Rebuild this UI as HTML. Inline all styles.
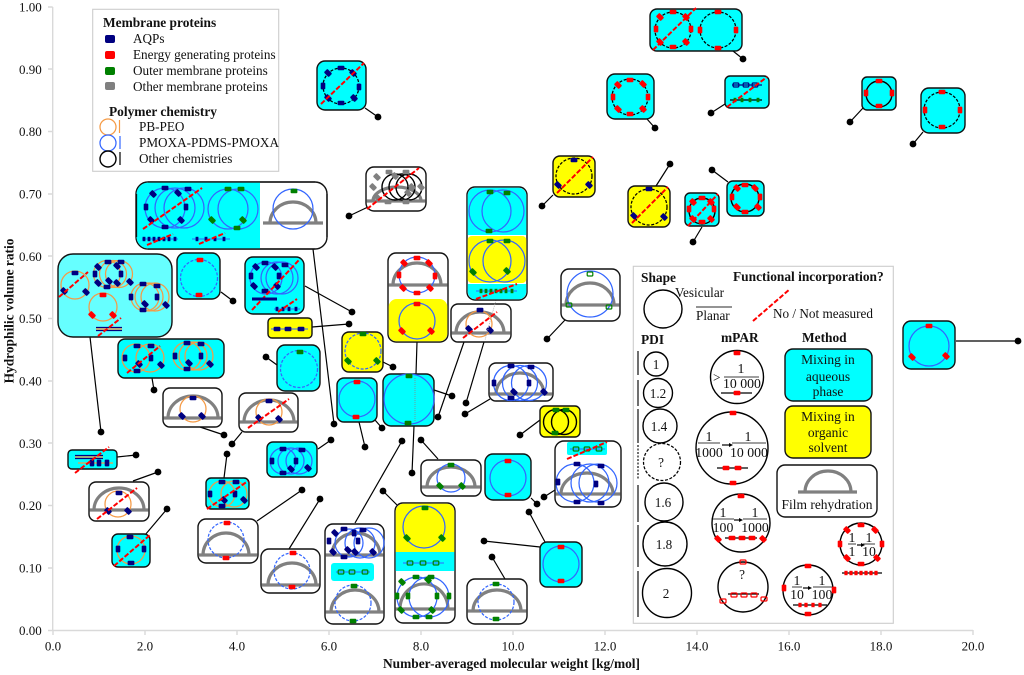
<!DOCTYPE html>
<html><head><meta charset="utf-8"><style>
html,body{margin:0;padding:0;background:#fff}
svg{display:block;filter:blur(0.35px)}
text{font-family:"Liberation Serif",serif;font-size:13.2px;fill:#111}
.B{font-weight:bold;font-size:13.4px}
.m{text-anchor:middle}
.e{text-anchor:end}
.c,.w,.y{stroke:#111;stroke-width:1.4}
.c{fill:#0ff}.w{fill:#fff}.y{fill:#ff0}
.b,.bd,.o,.k,.kd{fill:none;stroke-width:1.25}
.b{stroke:#3366ff}
.bd{stroke:#3366ff;stroke-dasharray:3 1.6}
.o{stroke:#f59a45}
.k{stroke:#000;stroke-width:1.4}
.kd{stroke:#000;stroke-width:1.25;stroke-dasharray:3 1.6}
.d{stroke:#f00;stroke-width:2;stroke-dasharray:5 2;fill:none}
.l{stroke:#000;stroke-width:1.2;fill:none}
.dm{stroke:#808080;stroke-width:3.2;fill:none}
.ax{stroke:#d9d9d9;stroke-width:1.4;fill:none}
.bx{stroke:#ccc;stroke-width:1.1;fill:#fff}
.nl{stroke:#3366ff;stroke-width:1.1;fill:none}
</style></head><body>
<svg width="1024" height="675" viewBox="0 0 1024 675" xmlns="http://www.w3.org/2000/svg">
<defs>
<rect id="n" x="-3.4" y="-2.3" width="6.8" height="4.6" rx="1" fill="#000080"/>
<rect id="nv" x="-2.3" y="-3.4" width="4.6" height="6.8" rx="1" fill="#000080"/>
<rect id="nd" x="-3.4" y="-2.5" width="6.8" height="5" rx="1" fill="#000080" transform="rotate(45)"/>
<rect id="r" x="-3.4" y="-2.3" width="6.8" height="4.6" rx="1" fill="#f00"/>
<rect id="rv" x="-2.3" y="-3.4" width="4.6" height="6.8" rx="1" fill="#f00"/>
<rect id="rd" x="-3.4" y="-2.5" width="6.8" height="5" rx="1" fill="#f00" transform="rotate(45)"/>
<rect id="g" x="-3.4" y="-2.3" width="6.8" height="4.6" rx="1" fill="#008000"/>
<rect id="gv" x="-2.3" y="-3.4" width="4.6" height="6.8" rx="1" fill="#008000"/>
<rect id="gd" x="-3.4" y="-2.5" width="6.8" height="5" rx="1" fill="#008000" transform="rotate(45)"/>
<rect id="s" x="-3.4" y="-2.3" width="6.8" height="4.6" rx="1" fill="#808080"/>
<rect id="sd" x="-3.4" y="-2.5" width="6.8" height="5" rx="1" fill="#808080" transform="rotate(45)"/>
<rect id="rh" x="-3" y="-2" width="6" height="4" rx="1" fill="none" stroke="#f00" stroke-width="1.2"/>
<rect id="gh" x="-2.8" y="-2" width="5.6" height="4" rx="1" fill="none" stroke="#008000" stroke-width="1.2"/>
<rect id="nh" x="-2.8" y="-2" width="5.6" height="4" rx="1" fill="none" stroke="#000080" stroke-width="1.2"/>
<rect id="sq" x="-1.4" y="-2.2" width="2.8" height="4.4" fill="#000080"/>
<rect id="sg" x="-1.4" y="-2.2" width="2.8" height="4.4" fill="#008000"/>
<rect id="sr" x="-1.6" y="-2.2" width="3.2" height="4.4" fill="#f00"/>
<circle id="o" r="3.4" fill="#000"/>
</defs>

<!-- axes -->
<path class="ax" d="M52.7 7V630.5H973M48 7H52.7M48 69H52.7M48 131.5H52.7M48 194H52.7M48 256H52.7M48 318.5H52.7M48 381H52.7M48 443H52.7M48 505.5H52.7M48 568H52.7M48 630.5H52.7M53 630V635M145 630V635M237 630V635M329 630V635M421 630V635M513 630V635M605 630V635M697 630V635M789 630V635M881 630V635M973 630V635"/>
<g>
<text class="e" x="41.7" y="11.5" style="font-size:13px">1.00</text>
<text class="e" x="41.7" y="74" style="font-size:13px">0.90</text>
<text class="e" x="41.7" y="136" style="font-size:13px">0.80</text>
<text class="e" x="41.7" y="198.500" style="font-size:13px">0.70</text>
<text class="e" x="41.7" y="261" style="font-size:13px">0.60</text>
<text class="e" x="41.7" y="323" style="font-size:13px">0.50</text>
<text class="e" x="41.7" y="385.500" style="font-size:13px">0.40</text>
<text class="e" x="41.7" y="448" style="font-size:13px">0.30</text>
<text class="e" x="41.7" y="510" style="font-size:13px">0.20</text>
<text class="e" x="41.7" y="572.500" style="font-size:13px">0.10</text>
<text class="e" x="41.7" y="635" style="font-size:13px">0.00</text>
<text class="m" x="53" y="650.700" style="font-size:13px">0.0</text>
<text class="m" x="145" y="650.700" style="font-size:13px">2.0</text>
<text class="m" x="237" y="650.700" style="font-size:13px">4.0</text>
<text class="m" x="329" y="650.700" style="font-size:13px">6.0</text>
<text class="m" x="421" y="650.700" style="font-size:13px">8.0</text>
<text class="m" x="513" y="650.700" style="font-size:13px">10.0</text>
<text class="m" x="605" y="650.700" style="font-size:13px">12.0</text>
<text class="m" x="697" y="650.700" style="font-size:13px">14.0</text>
<text class="m" x="789" y="650.700" style="font-size:13px">16.0</text>
<text class="m" x="881" y="650.700" style="font-size:13px">18.0</text>
<text class="m" x="973" y="650.700" style="font-size:13px">20.0</text>
</g>
<text class="B" x="383" y="668">Number-averaged molecular weight [kg/mol]</text>
<text class="B m" transform="translate(13.500 311) rotate(-90)">Hydrophilic volume ratio</text>

<!-- leaders -->
<path class="l" d="M313 249L334 424M90 337L101 432M221 292L233 301M305 286L352 312M312 327L349 324M383 362L393 367M277 365L266 357M152 378L154 390M200 427L224 435M242 432L232 444M318 449L331 440M117 457L136 455M133 481L158 472M145 535L167 509M224 478L227 454M257 521L302 490M289 549L320 499M355 523L402 441M397 505L383 491M438 459L421 440M531 498L537 504M540 547L484 541M545 542L529 512M505 579L492 557M555 490L544 497M540 420L520 435M434 390L452 396M414 426L412 473M359 422L365 447M375 420L382 428M417 342L416 374M464 342L438 417M484 342L466 403M490 399L465 414M368 207L349 216M565 320L547 339M553 195L542 206M733 51L743 59M647 119L655 128M725 104L711 113M863 108L850 122M923 132L913 144M656 186L670 164M702 227L693 242M728 182L712 170M365 108L378 117M956 341L1018 341"/>
<use href="#o" x="334" y="424"/><use href="#o" x="101" y="432"/><use href="#o" x="233" y="301"/><use href="#o" x="352" y="312"/><use href="#o" x="349" y="324"/><use href="#o" x="393" y="367"/><use href="#o" x="266" y="357"/><use href="#o" x="154" y="390"/><use href="#o" x="224" y="435"/><use href="#o" x="232" y="444"/><use href="#o" x="331" y="440"/><use href="#o" x="136" y="455"/><use href="#o" x="158" y="472"/><use href="#o" x="167" y="509"/><use href="#o" x="227" y="454"/><use href="#o" x="302" y="490"/><use href="#o" x="320" y="499"/><use href="#o" x="402" y="441"/><use href="#o" x="383" y="491"/><use href="#o" x="421" y="440"/><use href="#o" x="537" y="504"/><use href="#o" x="484" y="541"/><use href="#o" x="529" y="512"/><use href="#o" x="492" y="557"/><use href="#o" x="544" y="497"/><use href="#o" x="520" y="435"/><use href="#o" x="452" y="396"/><use href="#o" x="412" y="473"/><use href="#o" x="365" y="447"/><use href="#o" x="382" y="428"/><use href="#o" x="438" y="417"/><use href="#o" x="466" y="403"/><use href="#o" x="465" y="414"/><use href="#o" x="349" y="216"/><use href="#o" x="547" y="339"/><use href="#o" x="542" y="206"/><use href="#o" x="743" y="59"/><use href="#o" x="655" y="128"/><use href="#o" x="711" y="113"/><use href="#o" x="850" y="122"/><use href="#o" x="913" y="144"/><use href="#o" x="670" y="164"/><use href="#o" x="693" y="242"/><use href="#o" x="712" y="170"/><use href="#o" x="378" y="117"/><use href="#o" x="1018" y="341"/>

<!-- legend 1 -->
<rect class="bx" x="92.700" y="9.300" width="186" height="162"/>
<text class="B" x="103" y="27">Membrane proteins</text>
<text x="133" y="43">AQPs</text>
<text x="133" y="59">Energy generating proteins</text>
<text x="133" y="75">Outer membrane proteins</text>
<text x="133" y="91">Other membrane proteins</text>
<text class="B" x="109" y="116">Polymer chemistry</text>
<text x="139" y="131">PB-PEO</text>
<text x="139" y="147">PMOXA-PDMS-PMOXA</text>
<text x="139" y="163">Other chemistries</text>
<rect x="105" y="35" width="10" height="8" rx="2" fill="#000080"/>
<rect x="105" y="51" width="10" height="8" rx="2" fill="#f00"/>
<rect x="105" y="67" width="10" height="8" rx="2" fill="#008000"/>
<rect x="105" y="82" width="10" height="8" rx="2" fill="#808080"/>
<circle class="o" cx="108" cy="127" r="8"/><path d="M119.500 120V133" stroke="#f59a45" stroke-width="1.2"/>
<circle class="b" cx="108" cy="143" r="8"/><path d="M120 136V149" stroke="#3366ff" stroke-width="1.2"/>
<circle class="k" cx="108" cy="159" r="8"/><path d="M120 152V165" stroke="#000" stroke-width="1.2"/>

<!-- Box A -->
<rect class="w" x="136" y="182" width="191" height="67" rx="12"/>
<path fill="#0ff" d="M260 182.600H148A11.400 11.400 0 0 0 136.600 194V237A11.400 11.400 0 0 0 148 248.400H260Z"/>
<path d="M148 182H315M136.500 194V237M148 249H315M327 194V237" stroke="#111" fill="none" stroke-width="1.300"/>
<circle class="b" cx="165" cy="208" r="20"/><circle class="b" cx="175" cy="208" r="20"/><circle class="b" cx="184" cy="208" r="20"/>
<use href="#n" x="165" y="188"/><use href="#n" x="188" y="189"/><use href="#nd" x="153" y="194"/><use href="#nd" x="178" y="193"/><use href="#nv" x="146" y="207"/><use href="#nv" x="186" y="207"/><use href="#nd" x="151" y="220"/><use href="#nd" x="181" y="220"/><use href="#n" x="165" y="227"/>
<path class="d" d="M143 229L202 188"/>
<circle class="b" cx="228" cy="209" r="20"/><circle class="b" cx="238" cy="209" r="20"/>
<use href="#g" x="228" y="189"/><use href="#g" x="241" y="189"/><use href="#gd" x="212" y="220"/><use href="#gd" x="243" y="220"/><use href="#g" x="237" y="228"/>
<path class="dm" d="M270 223A23 21 0 0 1 316 223M263 223H323"/>
<circle class="b" cx="293" cy="209" r="20"/><use href="#g" x="294" y="191"/>
<path class="nl" d="M142 239H178M192 239H230"/>
<use href="#sq" x="144" y="239"/><use href="#sq" x="149" y="239"/><use href="#sq" x="154" y="239"/><use href="#sq" x="159" y="239"/><use href="#sq" x="164" y="239"/><use href="#sq" x="169" y="239"/><use href="#sq" x="175" y="239"/>
<use href="#sq" x="197" y="239"/><use href="#sq" x="206" y="239"/><use href="#sq" x="215" y="239"/><use href="#sq" x="224" y="239"/>
<path class="d" d="M147 245L173 234M199 244L225 233"/>

<!-- Box B -->
<rect x="58" y="254" width="114" height="83" rx="15" fill="#66ffff" stroke="#111" stroke-width="1.400"/>
<circle class="o" cx="75" cy="285" r="14"/><use href="#n" x="75" y="273"/><use href="#nd" x="64" y="291"/><use href="#nd" x="86" y="292"/>
<path class="d" d="M59 297L88 272"/>
<circle class="o" cx="107" cy="274" r="13.500"/><circle class="o" cx="113" cy="274" r="13.500"/><circle class="o" cx="119" cy="274" r="13.500"/>
<use href="#n" x="108" y="262"/><use href="#n" x="121" y="262"/><use href="#nd" x="98" y="267"/><use href="#nd" x="117" y="266"/><use href="#nv" x="95" y="274"/><use href="#nv" x="121" y="274"/><use href="#nd" x="98" y="283"/><use href="#nd" x="109" y="281"/><use href="#nd" x="117" y="283"/><use href="#nd" x="130" y="282"/><use href="#n" x="107" y="287"/>
<circle class="o" cx="145" cy="297" r="14"/><circle class="o" cx="149" cy="297" r="14"/><circle class="o" cx="155" cy="297" r="14"/>
<use href="#n" x="143" y="284"/><use href="#n" x="157" y="286"/><use href="#nv" x="131" y="297"/><use href="#nv" x="157" y="297"/><use href="#nd" x="145" y="304"/><use href="#nd" x="166" y="305"/><use href="#n" x="143" y="310"/>
<circle class="o" cx="103" cy="307" r="14"/><use href="#r" x="103" y="295"/><use href="#rd" x="92" y="315"/><use href="#rd" x="113" y="315"/>
<path d="M96 327.500H122M96 330.500H122" stroke="#000080" stroke-width="1.300"/><path d="M96 329H122" stroke="#f59a45" stroke-width="1.300"/>
<path class="d" d="M98 336L121 318"/>

<!-- Box C -->
<rect class="c" x="177" y="253" width="43" height="46" rx="8"/>
<circle class="bd" cx="199" cy="278" r="18.500"/><use href="#r" x="200" y="260"/><use href="#r" x="199" y="295"/>

<!-- Box D -->
<rect class="c" x="245" y="257" width="59" height="57" rx="8"/>
<circle class="b" cx="266" cy="278" r="16"/><circle class="b" cx="277" cy="278" r="16"/><circle class="b" cx="282" cy="278" r="16"/>
<use href="#n" x="265" y="263"/><use href="#n" x="285" y="265"/><use href="#nd" x="256" y="267"/><use href="#nd" x="275" y="267"/><use href="#nv" x="251" y="276"/><use href="#nv" x="279" y="276"/><use href="#nd" x="254" y="286"/><use href="#nd" x="277" y="286"/><use href="#n" x="265" y="291"/>
<path class="d" d="M252 310L299 260"/>
<path d="M252 299H277" stroke="#000080" stroke-width="3"/>
<path class="nl" d="M274 309H300"/><use href="#sq" x="277" y="309"/><use href="#sq" x="283" y="309"/><use href="#sq" x="289" y="309"/><use href="#sq" x="296" y="309"/>
<path class="d" d="M278 312L297 299"/>

<!-- Box E -->
<rect class="y" x="268" y="318" width="44" height="20" rx="4"/>
<path class="nl" d="M271 329H308"/><use href="#n" x="277" y="329"/><use href="#n" x="288" y="329"/><use href="#n" x="301" y="329"/>

<!-- Box F -->
<rect class="y" x="342" y="332" width="41" height="40" rx="7"/>
<circle class="bd" cx="363" cy="351" r="18"/><use href="#g" x="363" y="334"/><use href="#gd" x="348" y="361"/><use href="#gd" x="377" y="361"/>

<!-- Box G -->
<rect class="c" x="277" y="345" width="43" height="46" rx="8"/>
<circle class="bd" cx="299" cy="369" r="18.500"/><use href="#g" x="300" y="352"/>

<!-- Box H -->
<rect class="c" x="118" y="339" width="106" height="39" rx="7"/>
<circle class="o" cx="136" cy="358" r="14"/><circle class="o" cx="150" cy="358" r="14"/>
<use href="#n" x="137" y="346"/><use href="#n" x="151" y="346"/><use href="#nv" x="125" y="358"/><use href="#nv" x="151" y="358"/><use href="#nd" x="139" y="364"/><use href="#nd" x="161" y="365"/><use href="#n" x="137" y="371"/>
<path class="d" d="M127 373L160 346"/>
<circle class="o" cx="187" cy="356" r="14"/><circle class="o" cx="193" cy="356" r="14"/><circle class="o" cx="199" cy="356" r="14"/>
<use href="#n" x="187" y="343"/><use href="#n" x="201" y="344"/><use href="#nv" x="175" y="356"/><use href="#nv" x="201" y="356"/><use href="#nd" x="189" y="363"/><use href="#nd" x="210" y="364"/><use href="#n" x="187" y="369"/>

<!-- Box I -->
<rect class="w" x="163" y="388" width="59" height="39" rx="7"/>
<path class="dm" d="M168 418A25 22 0 0 1 218 418M163.500 418H221.500"/>
<circle class="o" cx="193" cy="409" r="13"/><use href="#n" x="193" y="398"/><use href="#nd" x="182" y="416"/><use href="#nd" x="202" y="416"/>

<!-- Box J -->
<rect class="w" x="239" y="393" width="59" height="39" rx="7"/>
<path class="dm" d="M244 422A25 22 0 0 1 294 422M239.500 422H297.500"/>
<circle class="o" cx="269" cy="412" r="13"/><use href="#n" x="269" y="401"/><use href="#nd" x="259" y="418"/><use href="#nd" x="279" y="419"/>
<path class="d" d="M248 428L289 399"/>

<!-- Box K -->
<rect class="c" x="267" y="442" width="50" height="35" rx="6"/>
<circle class="b" cx="283" cy="461" r="13"/><circle class="b" cx="291" cy="461" r="13"/><circle class="b" cx="299" cy="461" r="13"/>
<use href="#n" x="283" y="449"/><use href="#n" x="302" y="450"/><use href="#nv" x="272" y="461"/><use href="#nv" x="296" y="461"/><use href="#nd" x="291" y="469"/><use href="#nd" x="308" y="468"/><use href="#n" x="283" y="473"/>

<!-- Box L -->
<rect class="c" x="68" y="450" width="49" height="19" rx="4"/>
<path d="M75 455.500H103M75 458.500H103" stroke="#000080" stroke-width="1.300"/><path d="M75 457H103M78 463H113" stroke="#f59a45" stroke-width="1.300"/>
<use href="#nv" x="92" y="463"/><use href="#nv" x="99" y="463"/><use href="#nv" x="107" y="463"/>
<path class="d" d="M75 473L109 447"/>

<!-- Box M -->
<rect class="w" x="89" y="482" width="60" height="39" rx="7"/>
<path class="dm" d="M94 510A25 22 0 0 1 144 510M89.500 510H148.500"/>
<circle class="o" cx="118" cy="504" r="13"/><use href="#n" x="119" y="493"/><use href="#nd" x="108" y="511"/><use href="#nd" x="128" y="511"/>
<path class="d" d="M97 519L137 488"/>

<!-- Box N -->
<rect class="c" x="112" y="534" width="38" height="33" rx="6"/>
<circle class="o" cx="131" cy="550" r="14"/><use href="#n" x="130" y="537"/><use href="#nv" x="118" y="549"/><use href="#nv" x="144" y="549"/><use href="#n" x="131" y="563"/>
<path class="d" d="M114 566L150 535"/>

<!-- Box O -->
<rect class="c" x="206" y="478" width="43" height="31" rx="5"/>
<circle class="o" cx="222" cy="494" r="13"/><circle class="o" cx="234" cy="494" r="13"/>
<use href="#n" x="222" y="482"/><use href="#n" x="236" y="482"/><use href="#nv" x="210" y="494"/><use href="#nv" x="235" y="494"/><use href="#nd" x="224" y="500"/><use href="#nd" x="244" y="500"/><use href="#n" x="222" y="506"/>
<path class="d" d="M207 509L248 481"/>

<!-- Box P -->
<rect class="w" x="198" y="519" width="60" height="44" rx="8"/>
<path class="dm" d="M203 555A23 22 0 0 1 249 555M198.500 555H257.500"/>
<circle class="bd" cx="226" cy="540" r="18"/><use href="#r" x="227" y="523"/><use href="#r" x="226" y="558"/>

<!-- Box Q -->
<rect class="w" x="261" y="549" width="59" height="44" rx="8"/>
<path class="dm" d="M268 585A24 22 0 0 1 316 585M261.500 585H319.500"/>
<circle class="bd" cx="292" cy="571" r="18"/><use href="#r" x="293" y="553"/><use href="#r" x="292" y="587"/>

<!-- Box R -->
<rect class="w" x="325" y="524" width="59" height="100" rx="8"/>
<path class="dm" d="M332 555A24 22 0 0 1 380 555M325.500 555H383.500"/>
<circle class="b" cx="349" cy="543" r="14"/><circle class="b" cx="360" cy="543" r="15"/><circle class="b" cx="369" cy="543" r="15"/>
<use href="#n" x="344" y="529"/><use href="#n" x="363" y="530"/><use href="#nd" x="335" y="533"/><use href="#nv" x="354" y="533"/><use href="#nv" x="329" y="541"/><use href="#nv" x="358" y="541"/><use href="#nd" x="333" y="552"/><use href="#nd" x="348" y="550"/><use href="#nd" x="355" y="552"/><use href="#nd" x="373" y="552"/><use href="#n" x="344" y="557"/>
<rect x="331" y="563" width="43" height="18" rx="3" fill="#0ff"/>
<path class="nl" d="M336 572H370"/><use href="#gh" x="341" y="572"/><use href="#gh" x="352" y="572"/><use href="#gh" x="365" y="572"/>
<path class="dm" d="M331 612A24 22 0 0 1 379 612M325.500 612H383.500"/>
<circle class="bd" cx="353" cy="603" r="18"/><use href="#g" x="354" y="586"/><use href="#g" x="353" y="621"/>

<!-- Box S -->
<rect class="w" x="395" y="503" width="60" height="120" rx="8"/>
<path fill="#ff0" d="M395.700 552V511.600A8 8 0 0 1 403.600 503.700H446.400A8 8 0 0 1 454.300 511.600V552Z"/>
<rect x="395.700" y="552" width="58.600" height="19" fill="#0ff"/>
<circle class="b" cx="424" cy="527" r="21"/><use href="#g" x="425" y="508"/><use href="#gd" x="407" y="538"/><use href="#gd" x="442" y="538"/>
<path class="nl" d="M403 563H444"/><use href="#gh" x="410" y="563"/><use href="#gh" x="423" y="563"/><use href="#gh" x="436" y="563"/>
<path class="dm" d="M400 609A23 24 0 0 1 448 609M395.500 609H454.500"/>
<circle class="b" cx="417" cy="597" r="20"/><circle class="b" cx="429" cy="597" r="20"/>
<use href="#g" x="416" y="577"/><use href="#g" x="431" y="577"/><use href="#gd" x="402" y="582"/><use href="#gd" x="428" y="580"/><use href="#gv" x="397" y="596"/><use href="#gv" x="408" y="596"/><use href="#gv" x="437" y="596"/><use href="#gv" x="449" y="596"/><use href="#gd" x="401" y="610"/><use href="#gd" x="432" y="610"/><use href="#g" x="416" y="617"/><use href="#g" x="429" y="617"/>

<!-- Box T -->
<rect class="w" x="421" y="460" width="60" height="36" rx="7"/>
<path class="dm" d="M427 487A24 20 0 0 1 475 487M421.500 487H480.500"/>
<circle class="b" cx="451" cy="478" r="14"/><use href="#g" x="451" y="465"/><use href="#gd" x="440" y="486"/><use href="#gd" x="462" y="486"/>

<!-- Box U -->
<rect class="c" x="485" y="454" width="46" height="46" rx="8"/>
<circle class="b" cx="508" cy="478" r="18"/><use href="#r" x="508" y="461"/><use href="#r" x="508" y="495"/>

<!-- Box V -->
<rect class="c" x="540" y="542" width="42" height="45" rx="7"/>
<circle class="b" cx="561" cy="564" r="18"/><use href="#r" x="561" y="547"/><use href="#r" x="561" y="581"/>

<!-- Box W -->
<rect class="w" x="467" y="579" width="60" height="45" rx="8"/>
<path class="dm" d="M473 611A24 21 0 0 1 521 611M467.500 611H526.500"/>
<circle class="bd" cx="496" cy="602" r="18"/><use href="#g" x="496" y="584"/><use href="#g" x="496" y="619"/>

<!-- Box X -->
<rect class="w" x="555" y="441" width="66" height="66" rx="9"/>
<rect x="567" y="442" width="40" height="13" rx="2" fill="#0ff"/>
<path class="nl" d="M570 449H605"/><use href="#gh" x="576" y="449"/><use href="#gh" x="587" y="449"/><use href="#gh" x="599" y="449"/>
<path class="d" d="M567 459L607 442"/>
<path class="dm" d="M561 494A26 21 0 0 1 613 494M555.500 494H620.500"/>
<circle class="b" cx="575" cy="483" r="19"/><circle class="b" cx="590" cy="483" r="19"/><circle class="b" cx="598" cy="483" r="19"/>
<use href="#n" x="577" y="464"/><use href="#n" x="601" y="466"/><use href="#nv" x="558" y="482"/><use href="#nv" x="596" y="484"/><use href="#n" x="577" y="502"/><use href="#n" x="601" y="503"/>

<!-- Box Y -->
<rect class="y" x="540" y="406" width="40" height="31" rx="5"/>
<circle class="k" cx="556" cy="422" r="12.500"/><circle class="k" cx="564" cy="422" r="12.500"/>
<use href="#g" x="556" y="410"/><use href="#g" x="566" y="410"/><use href="#g" x="555" y="433"/>

<!-- Box Z -->
<rect class="c" x="383" y="374" width="51" height="52" rx="8"/>
<circle class="b" cx="409" cy="399" r="25"/><use href="#g" x="409" y="376"/><use href="#g" x="408" y="423"/>
<path d="M415 378V422" stroke="#888" stroke-width="0.800" stroke-dasharray="1 1"/>

<!-- Box AA -->
<rect class="c" x="337" y="378" width="40" height="44" rx="7"/>
<circle class="b" cx="357" cy="399" r="18"/><use href="#r" x="357" y="382"/><use href="#r" x="356" y="417"/>

<!-- Box AB -->
<rect class="w" x="388" y="253" width="60" height="89" rx="8"/>
<path fill="#ff0" d="M388.700 307A8 8 0 0 1 396.600 299H439.400A8 8 0 0 1 447.300 307V333.400A8 8 0 0 1 439.400 341.300H396.600A8 8 0 0 1 388.700 333.400Z"/>
<path class="dm" d="M393 285A24 22 0 0 1 441 285M388.500 285H447.500"/>
<circle class="b" cx="417" cy="275" r="18"/>
<use href="#r" x="417" y="258"/><use href="#rd" x="404" y="263"/><use href="#rd" x="429" y="263"/><use href="#rv" x="399" y="275"/><use href="#rv" x="435" y="276"/><use href="#rd" x="403" y="288"/><use href="#rd" x="430" y="288"/><use href="#r" x="417" y="293"/>
<circle class="b" cx="417" cy="321" r="18"/><use href="#r" x="417" y="304"/><use href="#rd" x="402" y="331"/><use href="#rd" x="431" y="331"/>

<!-- Box AC -->
<rect class="w" x="451" y="304" width="60" height="38" rx="7"/>
<path class="dm" d="M456 333A24 21 0 0 1 504 333M451.500 333H510.500"/>
<circle class="o" cx="479" cy="324" r="13"/><use href="#n" x="480" y="310"/><use href="#nd" x="469" y="329"/><use href="#nd" x="490" y="330"/>
<path d="M496 300L485 340" stroke="#aaa" stroke-width="0.800" stroke-dasharray="1 1"/>
<path class="d" d="M463 338L497 312"/>

<!-- Box AD -->
<rect class="w" x="467" y="187" width="60" height="113" rx="8"/>
<path fill="#0ff" d="M467.700 235V195.600A8 8 0 0 1 475.600 187.700H518.400A8 8 0 0 1 526.300 195.600V235Z"/>
<rect x="467.700" y="236" width="58.600" height="47" rx="4" fill="#ff0"/>
<path fill="#0ff" d="M467.700 284H526.300V291.400A8 8 0 0 1 518.400 299.300H475.600A8 8 0 0 1 467.700 291.400Z"/>
<circle class="b" cx="490" cy="211" r="21"/><circle class="b" cx="503" cy="211" r="21"/><use href="#g" x="490" y="192"/><use href="#g" x="507" y="193"/><use href="#g" x="489" y="231"/>
<circle class="b" cx="490" cy="261" r="21"/><circle class="b" cx="504" cy="261" r="21"/><use href="#g" x="490" y="241"/><use href="#g" x="507" y="241"/><use href="#gd" x="473" y="272"/><use href="#gd" x="507" y="271"/>
<path class="nl" d="M476 291H517"/>
<use href="#sg" x="481" y="291"/><use href="#sg" x="486" y="291"/><use href="#sg" x="491" y="291"/><use href="#sg" x="496" y="291"/><use href="#sg" x="501" y="291"/><use href="#sg" x="506" y="291"/><use href="#sg" x="512" y="291"/>
<path class="d" d="M476 299L517 284"/>

<!-- Box AE -->
<rect class="w" x="366" y="167" width="60" height="44" rx="8"/>
<path class="dm" d="M373 201A24 14 0 0 1 421 201M366.500 201H425.500"/>
<circle class="k" cx="395" cy="187" r="13"/><circle class="k" cx="402" cy="187" r="13"/><circle class="k" cx="409" cy="187" r="13"/>
<use href="#s" x="389" y="172"/><use href="#s" x="406" y="172"/><use href="#sd" x="377" y="177"/><use href="#sd" x="395" y="176"/><use href="#sd" x="373" y="187"/><use href="#sd" x="412" y="187"/><use href="#sd" x="377" y="197"/><use href="#sd" x="408" y="193"/><use href="#s" x="388" y="202"/><use href="#s" x="406" y="202"/><use href="#sd" x="421" y="187"/>
<path class="d" d="M367 209L419 168"/>

<!-- Box AF -->
<rect class="w" x="561" y="269" width="59" height="52" rx="8"/>
<path class="dm" d="M566 305A24 22 0 0 1 614 305M561.500 305H619.500"/>
<circle class="b" cx="590" cy="294" r="23"/><use href="#gh" x="590" y="274"/><use href="#gh" x="569" y="305"/><use href="#gh" x="609" y="307"/>

<!-- Box AG -->
<rect class="w" x="489" y="363" width="64" height="38" rx="7"/>
<path class="dm" d="M496 394A24 21 0 0 1 544 394M489.500 394H552.500"/>
<circle class="b" cx="511" cy="383" r="17.500"/><circle class="b" cx="520" cy="383" r="17.500"/><circle class="b" cx="529" cy="383" r="17.500"/>
<use href="#n" x="511" y="366"/><use href="#n" x="531" y="367"/><use href="#nv" x="494" y="383"/><use href="#nv" x="529" y="383"/><use href="#nd" x="514" y="392"/><use href="#nd" x="544" y="392"/><use href="#n" x="511" y="398"/>

<!-- Box AH -->
<rect class="y" x="553" y="156" width="42" height="41" rx="7"/>
<circle class="kd" cx="574" cy="176" r="18"/><use href="#n" x="574" y="160"/><use href="#nd" x="558" y="185"/><use href="#nd" x="589" y="185"/>
<path class="d" d="M557 193L593 157"/>

<!-- Box AI -->
<rect class="c" x="650" y="9" width="92" height="42" rx="7"/>
<circle class="kd" cx="673" cy="30" r="18"/><circle class="kd" cx="718" cy="30" r="18"/>
<use href="#r" x="673" y="12"/><use href="#rd" x="660" y="17"/><use href="#rd" x="686" y="17"/><use href="#rv" x="656" y="29"/><use href="#rv" x="691" y="29"/><use href="#rd" x="660" y="42"/><use href="#rd" x="686" y="42"/><use href="#r" x="673" y="47"/>
<use href="#r" x="718" y="12"/><use href="#rv" x="700" y="30"/><use href="#rv" x="736" y="30"/><use href="#r" x="718" y="48"/>
<path class="d" d="M653 50L696 8"/>

<!-- Box AJ -->
<rect class="c" x="607" y="74" width="47" height="45" rx="8"/>
<circle class="kd" cx="630" cy="97" r="18"/>
<use href="#r" x="630" y="80"/><use href="#rd" x="618" y="85"/><use href="#rd" x="643" y="84"/><use href="#rv" x="613" y="97"/><use href="#rv" x="648" y="97"/><use href="#rd" x="618" y="109"/><use href="#rd" x="643" y="109"/><use href="#r" x="630" y="114"/>

<!-- Box AK -->
<rect class="c" x="725" y="76" width="44" height="32" rx="5"/>
<path d="M732 85H762" stroke="#000080" stroke-width="1.200"/><use href="#nh" x="736" y="85"/><use href="#nh" x="746" y="85"/><use href="#nh" x="755" y="85"/>
<path d="M730 100H762" stroke="#000" stroke-width="1.200"/><use href="#sg" x="735" y="100"/><use href="#sg" x="742" y="100"/><use href="#sg" x="750" y="100"/><use href="#sg" x="758" y="100"/>
<path class="d" d="M727 107L767 77"/>

<!-- Box AL -->
<rect class="c" x="862" y="77" width="34" height="33" rx="5"/>
<circle class="k" cx="879" cy="94" r="13"/><use href="#r" x="879" y="81"/><use href="#rv" x="866" y="93"/><use href="#rv" x="892" y="93"/><use href="#r" x="879" y="106"/>

<!-- Box AM -->
<rect class="c" x="921" y="88" width="44" height="45" rx="8"/>
<circle class="kd" cx="942" cy="110" r="18"/><use href="#r" x="942" y="92"/><use href="#rv" x="925" y="110"/><use href="#rv" x="960" y="110"/><use href="#r" x="942" y="127"/>

<!-- Box AN -->
<rect class="y" x="628" y="186" width="42" height="41" rx="7"/>
<circle class="kd" cx="649" cy="207" r="18"/><use href="#n" x="649" y="189"/><use href="#nd" x="634" y="216"/><use href="#nd" x="664" y="217"/>
<path class="d" d="M632 223L668 187"/>

<!-- Box AO -->
<rect class="c" x="685" y="193" width="34" height="33" rx="5"/>
<circle class="k" cx="702" cy="211" r="13"/>
<use href="#r" x="702" y="198"/><use href="#rd" x="693" y="202"/><use href="#rd" x="711" y="202"/><use href="#rv" x="689" y="209"/><use href="#rv" x="714" y="209"/><use href="#rd" x="693" y="219"/><use href="#rd" x="711" y="219"/><use href="#r" x="702" y="222"/>
<path class="d" d="M688 226L718 194"/>

<!-- Box AP -->
<rect class="c" x="727" y="181" width="37" height="35" rx="6"/>
<circle class="k" cx="745" cy="198" r="14"/>
<use href="#r" x="745" y="185"/><use href="#rd" x="737" y="188"/><use href="#rd" x="755" y="188"/><use href="#rv" x="732" y="197"/><use href="#rv" x="760" y="197"/><use href="#rd" x="737" y="207"/><use href="#rd" x="758" y="207"/><use href="#r" x="745" y="212"/>

<!-- Box top-left -->
<rect class="c" x="317" y="61" width="49" height="49" rx="8"/>
<circle class="kd" cx="341" cy="86" r="18"/>
<use href="#n" x="341" y="68"/><use href="#nd" x="353" y="73"/><use href="#nd" x="328" y="73"/><use href="#nv" x="323" y="86"/><use href="#nv" x="359" y="87"/><use href="#nd" x="328" y="98"/><use href="#nd" x="354" y="98"/><use href="#n" x="341" y="103"/>
<path class="d" d="M321 104L364 63"/>

<!-- Right box -->
<rect class="c" x="903" y="321" width="52" height="48" rx="8"/>
<circle class="b" cx="929" cy="346" r="20"/><use href="#r" x="929" y="326"/><use href="#rd" x="912" y="357"/><use href="#rd" x="946" y="356"/>

<!-- Legend panel -->
<rect class="bx" x="633.300" y="266.300" width="260" height="357"/>
<text class="B" x="641" y="282">Shape</text>
<text class="B" x="733" y="281">Functional incorporation?</text>
<circle class="k" cx="663" cy="309" r="19"/>
<text x="675" y="297">Vesicular</text>
<path d="M696 307H732" stroke="#555" stroke-width="1.300"/>
<text x="696" y="320">Planar</text>
<path class="d" d="M753 321L790 289"/>
<text x="773" y="318">No / Not measured</text>
<text class="B" x="641" y="344">PDI</text>
<text class="B" x="721" y="342">mPAR</text>
<text class="B" x="802" y="342">Method</text>
<path d="M638 351V375M638 380V406M638 409V443M638 485V522M638 525V567M638 571V617" stroke="#222" stroke-width="1.300" fill="none"/>
<path d="M638 445V480" stroke="#222" stroke-width="1.300" stroke-dasharray="2 1.500"/>
<circle class="k" cx="656" cy="364" r="12"/><text class="m" x="656" y="369">1</text>
<circle class="k" cx="658" cy="393" r="14.500"/><text class="m" x="658" y="398">1.2</text>
<circle class="k" cx="660" cy="426" r="17"/><text class="m" x="659" y="431">1.4</text>
<circle class="kd" cx="662" cy="462" r="18.500"/><text class="m" x="661" y="467">?</text>
<circle class="k" cx="664" cy="502" r="19"/><text class="m" x="663" y="507">1.6</text>
<circle class="k" cx="665" cy="544" r="22"/><text class="m" x="664" y="549">1.8</text>
<circle class="k" cx="667" cy="593" r="24.500"/><text class="m" x="666" y="598">2</text>

<!-- mPAR a -->
<circle class="k" cx="737" cy="377" r="26.500"/>
<use href="#r" x="737" y="353"/>
<text x="713" y="382">&gt;</text>
<text class="m" x="741" y="373" style="font-size:13.800px">1</text>
<path d="M724 377H759" stroke="#666" stroke-width="1.200"/>
<text class="m" x="742" y="388" style="font-size:13.800px">10 000</text>
<path d="M721 393H752" stroke="#000" stroke-width="1.200"/><use href="#r" x="737" y="393"/>
<!-- mPAR b -->
<circle class="k" cx="732" cy="448" r="36"/>
<use href="#r" x="733" y="413"/><use href="#r" x="733" y="483"/>
<text class="m" x="709" y="441" style="font-size:13.800px">1</text><path d="M698 443H720M732 443H766" stroke="#666" stroke-width="1.200"/>
<text class="m" x="709" y="457" style="font-size:13.800px">1000</text>
<path d="M722 445H730" stroke="#000" stroke-width="1.200"/><path d="M733 445L729 443V447Z" fill="#000"/>
<text class="m" x="748" y="441" style="font-size:13.800px">1</text><text class="m" x="749" y="457" style="font-size:13.800px">10 000</text>
<path d="M717 468H748" stroke="#000" stroke-width="1.200"/><use href="#r" x="726" y="468"/><use href="#r" x="738" y="468"/>
<!-- mPAR c -->
<circle class="k" cx="741" cy="523" r="29"/>
<use href="#r" x="741" y="496"/><use href="#rd" x="718" y="539"/><use href="#rd" x="763" y="539"/>
<text class="m" x="723" y="517" style="font-size:13.800px">1</text><path d="M713 519H734M743 519H767" stroke="#666" stroke-width="1.200"/><text class="m" x="723" y="532" style="font-size:13.800px">100</text>
<path d="M734 520H740" stroke="#000" stroke-width="1.200"/><path d="M743 520L739 518V522Z" fill="#000"/>
<text class="m" x="755" y="517" style="font-size:13.800px">1</text><text class="m" x="755" y="532" style="font-size:13.800px">1000</text>
<path d="M725 538H757" stroke="#000" stroke-width="1.200"/><use href="#r" x="732" y="538"/><use href="#r" x="742" y="538"/><use href="#r" x="752" y="538"/>
<!-- mPAR d -->
<circle class="k" cx="743" cy="587" r="25"/>
<use href="#rh" x="743" y="562"/><use href="#rh" x="723" y="601"/><use href="#rh" x="764" y="599"/>
<text class="m" x="742" y="579">?</text>
<path d="M728 594H759" stroke="#000" stroke-width="1.200"/><use href="#rh" x="734" y="595"/><use href="#rh" x="744" y="595"/><use href="#rh" x="754" y="595"/>
<!-- mPAR e -->
<circle class="k" cx="808" cy="590" r="25"/>
<use href="#r" x="808" y="566"/><use href="#rv" x="784" y="588"/><use href="#rv" x="834" y="590"/><use href="#r" x="808" y="614"/>
<text class="m" x="797" y="585" style="font-size:13.800px">1</text><path d="M792 587H802M813 587H832" stroke="#666" stroke-width="1.200"/><text class="m" x="797" y="599" style="font-size:13.800px">10</text>
<path d="M803 588H809" stroke="#000" stroke-width="1.200"/><path d="M812 588L808 586V590Z" fill="#000"/>
<text class="m" x="822" y="585" style="font-size:13.800px">1</text><text class="m" x="822" y="599" style="font-size:13.800px">100</text>
<path d="M793 605H827" stroke="#000" stroke-width="1.200"/><use href="#sr" x="800" y="605"/><use href="#sr" x="806" y="605"/><use href="#sr" x="813" y="605"/><use href="#sr" x="820" y="605"/>
<!-- mPAR f -->
<circle class="k" cx="861" cy="544" r="21"/>
<use href="#r" x="861" y="525"/><use href="#rd" x="847" y="530"/><use href="#rd" x="875" y="530"/><use href="#rv" x="840" y="544"/><use href="#rv" x="882" y="544"/><use href="#rd" x="847" y="558"/><use href="#rd" x="877" y="558"/><use href="#r" x="861" y="564"/>
<text class="m" x="852" y="542" style="font-size:13.800px">1</text><path d="M848 544H856M863 544H875" stroke="#666" stroke-width="1.200"/><text class="m" x="852" y="556" style="font-size:13.800px">1</text>
<path d="M857 545H862" stroke="#000" stroke-width="1.200"/><path d="M865 545L861 543V547Z" fill="#000"/>
<text class="m" x="869" y="542" style="font-size:13.800px">1</text><text class="m" x="869" y="556" style="font-size:13.800px">10</text>
<path d="M842 573H882" stroke="#000" stroke-width="1.200"/><use href="#sr" x="846" y="573"/><use href="#sr" x="851" y="573"/><use href="#sr" x="856" y="573"/><use href="#sr" x="861" y="573"/><use href="#sr" x="866" y="573"/><use href="#sr" x="871" y="573"/><use href="#sr" x="876" y="573"/>

<!-- Method -->
<rect class="c" x="785" y="349" width="87" height="52" rx="8"/>
<text class="m" x="828" y="364" style="font-size:13.500px">Mixing in</text>
<text class="m" x="828" y="381" style="font-size:13.500px">aqueous</text>
<text class="m" x="828" y="396" style="font-size:13.500px">phase</text>
<rect class="y" x="785" y="406" width="86" height="52" rx="8"/>
<text class="m" x="828" y="421" style="font-size:13.500px">Mixing in</text>
<text class="m" x="828" y="437" style="font-size:13.500px">organic</text>
<text class="m" x="828" y="452" style="font-size:13.500px">solvent</text>
<rect class="w" x="777" y="465" width="100" height="52" rx="8"/>
<path class="dm" d="M805 492A23 21 0 0 1 851 492M798 492H857"/>
<text class="m" x="827" y="509" style="font-size:13.500px">Film rehydration</text>
</svg>
</body></html>
